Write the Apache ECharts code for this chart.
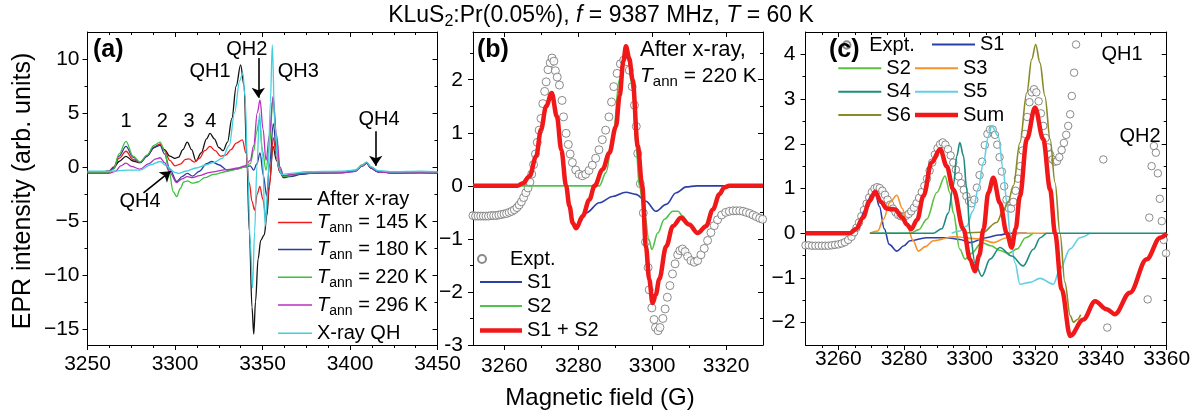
<!DOCTYPE html>
<html><head><meta charset="utf-8">
<script src="https://cdn.jsdelivr.net/npm/echarts@6/dist/echarts.min.js"></script>
<style>html,body{margin:0;padding:0;background:#fff}#c{width:1202px;height:420px}</style>
</head><body><div id="c"></div>
<script>
// ---------- Panel (a) data: [field G, EPR intensity] ----------
const aAfterXray = [[3250,-0.5],[3256,-0.5],[3262,-0.4],[3265,-0.1],[3268,0.5],[3272,0.98],[3276,0.55],[3280,0.4],[3284,1.0],[3288,1.8],[3291.5,2.1],[3294,1.6],[3297,1.0],[3300,0.8],[3302,0.9],[3304.5,1.6],[3307,2.3],[3309.5,1.6],[3312,0.55],[3315,1.3],[3318,2.6],[3320,3.1],[3322.5,2.6],[3325,1.8],[3327.5,1.5],[3330,2.3],[3332.5,4.5],[3335,7.5],[3337.5,9.45],[3339.5,7.5],[3341,1],[3342.5,-6],[3344,-13],[3345,-15.5],[3346,-12.5],[3347.5,-8.5],[3349,-6.8],[3351,-6.3],[3352.5,-4.5],[3354,-1.5],[3356,1.9],[3358,0.6],[3360,-0.5],[3362,-1.0],[3366,-0.85],[3372,-0.65],[3380,-0.55],[3395,-0.5],[3403,-0.35],[3407,0.1],[3409.5,0.35],[3412,-0.1],[3416,-0.45],[3425,-0.55],[3440,-0.5],[3450,-0.55]];
const aT145 = [[3250,-0.5],[3256,-0.5],[3262,-0.4],[3265,0],[3268,0.8],[3272,1.45],[3276,0.7],[3280,0.4],[3284,1.0],[3288,1.8],[3291.5,2.1],[3294,1.5],[3297,0.6],[3300,0.1],[3303,0.25],[3306,0.7],[3308,0.75],[3311,0.45],[3314,0.8],[3317,1.5],[3320,1.9],[3323,1.5],[3326,1.0],[3329,1.1],[3332,1.6],[3335,2.2],[3338.5,2.5],[3340.5,1.3],[3342.5,-1.5],[3344,-3.2],[3345.5,-4.0],[3347,-2.5],[3348.5,-1.8],[3350.2,-3.0],[3352,-4.7],[3353.8,-2.0],[3356.2,2.7],[3358,0.8],[3360,-0.5],[3362,-0.9],[3366,-0.75],[3372,-0.6],[3380,-0.55],[3395,-0.5],[3403,-0.35],[3407,0.1],[3409.5,0.35],[3412,-0.1],[3416,-0.45],[3425,-0.55],[3440,-0.5],[3450,-0.55]];
const aT180 = [[3250,-0.6],[3256,-0.6],[3262,-0.5],[3265,-0.1],[3268,1.0],[3272,1.9],[3276,0.9],[3280,0.4],[3284,1.0],[3288,1.8],[3291.5,2.0],[3294,1.2],[3297,-0.2],[3301,-1.35],[3304,-0.9],[3307,-0.6],[3310,-0.85],[3314,-0.4],[3318,0.3],[3321,0.5],[3325,0.2],[3330,-0.3],[3335,-0.2],[3340,0],[3343,0.1],[3345,-0.3],[3346.8,0.3],[3348.6,1.3],[3350.5,-0.8],[3352.4,-2.7],[3354,0.2],[3356.2,4.0],[3358,1.5],[3360,-0.3],[3362,-0.9],[3366,-0.9],[3372,-0.7],[3380,-0.55],[3395,-0.55],[3403,-0.4],[3407,0.1],[3409.5,0.35],[3412,-0.1],[3416,-0.45],[3425,-0.55],[3440,-0.55],[3450,-0.55]];
const aT220 = [[3250,-0.5],[3256,-0.5],[3262,-0.5],[3265,-0.2],[3268,1.2],[3272,2.37],[3276,1.0],[3280,0.45],[3284,1.1],[3288,2.0],[3291.5,2.3],[3294,1.5],[3296.5,-0.3],[3299,-2.3],[3301,-2.75],[3303,-2.0],[3305,-1.4],[3307,-1.3],[3310,-1.5],[3313,-1.4],[3317,-1.0],[3322,-0.7],[3330,-0.4],[3336,-0.2],[3340,0],[3343,0.3],[3345,1.5],[3346.6,3.2],[3348.2,4.4],[3350,1.5],[3352,-0.3],[3354,2.0],[3356,6.4],[3358,2.5],[3360,-0.2],[3362,-0.9],[3366,-0.8],[3372,-0.6],[3380,-0.5],[3395,-0.5],[3403,-0.3],[3407,0.2],[3409.5,0.45],[3412,0],[3416,-0.4],[3425,-0.5],[3440,-0.5],[3450,-0.5]];
const aT296 = [[3250,-0.6],[3256,-0.6],[3262,-0.6],[3266,-0.4],[3269,0.1],[3272,0.35],[3275,0.05],[3280,-0.2],[3285,0.3],[3289,0.75],[3291.5,0.85],[3294,0.4],[3297,-0.5],[3301,-1.45],[3304,-1.1],[3307,-0.9],[3310,-1.0],[3314,-0.8],[3320,-0.5],[3330,-0.25],[3336,-0.1],[3340,0.1],[3343,0.6],[3345,2.0],[3347,5.0],[3348.6,6.2],[3350.3,3.5],[3352,0.6],[3354,3.0],[3356,6.5],[3358,3.0],[3360,0],[3362,-0.8],[3366,-0.7],[3372,-0.6],[3380,-0.55],[3395,-0.55],[3403,-0.4],[3407,0.15],[3409.5,0.4],[3412,-0.05],[3416,-0.45],[3425,-0.55],[3440,-0.55],[3450,-0.55]];
const aXrayQH = [[3250,-0.4],[3265,-0.4],[3272,-0.3],[3280,-0.3],[3286,0.2],[3291.5,0.5],[3295,0.1],[3300,-0.5],[3302,-0.6],[3306,-0.4],[3312,-0.1],[3318,0.2],[3322,0.4],[3327,0.8],[3331,2.0],[3334,5.0],[3337,8.0],[3338.8,8.7],[3340,6.5],[3341.5,0],[3343,-7],[3344.3,-11.2],[3345.5,-6],[3346.8,0],[3348.3,5.0],[3350,1],[3351.5,-5.5],[3353,-2],[3354.5,6],[3355.6,11.3],[3357,4],[3359,0],[3361,-0.7],[3366,-0.6],[3375,-0.45],[3395,-0.4],[3403,-0.3],[3407,0.15],[3409.5,0.45],[3412,0],[3416,-0.35],[3425,-0.45],[3440,-0.4],[3450,-0.45]];
const aNotes = [['QH1',3320,8.85],['QH2',3341,10.86],['QH3',3370.5,8.85],['1',3272,4.22],['2',3292.7,4.22],['3',3308,4.22],['4',3320.4,4.22],['QH4',3416.6,4.38],['QH4',3280,-3.19]];
const aArrows = [[3347.6,10.1,3347.6,6.4],[3414.7,3.3,3414.7,0.1],[3282,-2.4,3297.5,-0.4]];
const aXMajor = [3250,3300,3350,3400,3450];
const aXMinor = [3262.5,3275,3287.5,3312.5,3325,3337.5,3362.5,3375,3387.5,3412.5,3425,3437.5];
const aYMajor = [-15,-10,-5,0,5,10];
const aYMinor = [-12.5,-7.5,-2.5,2.5,7.5];

// ---------- Panel (b) data ----------
const bExpt = [[3251.5,-0.56],[3252.2,-0.57],[3252.9,-0.57],[3253.6,-0.57],[3254.3,-0.57],[3255,-0.57],[3255.7,-0.57],[3256.4,-0.56],[3257.1,-0.56],[3257.8,-0.56],[3258.5,-0.55],[3259.2,-0.54],[3259.9,-0.53],[3260.6,-0.52],[3261.3,-0.5],[3262,-0.48],[3262.7,-0.45],[3263.4,-0.41],[3264,-0.36],[3264.6,-0.3],[3265.2,-0.22],[3265.8,-0.13],[3266.4,-0.04],[3266.9,0.07],[3267.4,0.22],[3267.9,0.4],[3268.4,0.6],[3268.9,0.82],[3269.4,1.05],[3269.9,1.27],[3270.4,1.55],[3270.9,1.78],[3271.3,1.96],[3271.8,2.19],[3272.4,2.32],[3272.9,2.41],[3273.4,2.35],[3273.8,2.17],[3274.3,2.05],[3274.9,1.9],[3275.6,1.61],[3276,1.3],[3276.7,0.99],[3277.3,0.78],[3277.8,0.6],[3278.4,0.44],[3279.3,0.3],[3280.2,0.22],[3281.1,0.19],[3282,0.22],[3282.9,0.29],[3283.8,0.39],[3284.7,0.52],[3285.6,0.68],[3286.5,0.87],[3287.4,1.05],[3288.3,1.3],[3289,1.58],[3289.6,1.87],[3290.5,2.12],[3291.4,2.3],[3292.3,2.37],[3293.2,2.34],[3293.8,2.18],[3294.6,1.87],[3295.2,1.52],[3295.7,1.12],[3296.1,0.61],[3296.8,0.04],[3297.6,-0.51],[3298.2,-1.06],[3298.9,-1.54],[3299.2,-1.96],[3299.9,-2.3],[3300.5,-2.52],[3300.9,-2.67],[3301.6,-2.73],[3302.1,-2.67],[3302.9,-2.5],[3303.5,-2.32],[3304.1,-2.1],[3304.8,-1.88],[3305.5,-1.66],[3306.2,-1.47],[3306.9,-1.3],[3307.5,-1.22],[3308.2,-1.19],[3308.9,-1.24],[3309.6,-1.33],[3310.5,-1.41],[3311.4,-1.44],[3312.3,-1.41],[3313.2,-1.3],[3314.1,-1.18],[3315,-1.03],[3315.9,-0.88],[3316.8,-0.75],[3317.7,-0.64],[3318.8,-0.55],[3319.9,-0.5],[3320.9,-0.48],[3321.9,-0.47],[3322.8,-0.47],[3323.7,-0.47],[3324.6,-0.48],[3325.5,-0.5],[3326.4,-0.52],[3327.3,-0.55],[3328.2,-0.58],[3329.1,-0.61],[3329.9,-0.63]];
const bS1 = [[3251.5,0],[3264,0],[3266.8,0.18],[3268.6,0.56],[3269.9,1.06],[3271.3,1.5],[3272.8,1.75],[3274.2,1.31],[3275.4,0.68],[3276.7,0],[3277.6,-0.38],[3278.5,-0.7],[3279.4,-0.8],[3280.5,-0.68],[3282.1,-0.51],[3285.7,-0.32],[3289.3,-0.2],[3292.9,-0.12],[3295.6,-0.16],[3298.3,-0.29],[3301,-0.48],[3303.8,-0.35],[3306.5,-0.13],[3309.2,-0.02],[3312,0],[3330,0]];
const bS2 = [[3251.5,0],[3285.7,0],[3287.5,0.25],[3289.5,1.0],[3291.1,2.0],[3292.5,2.53],[3293.6,2.35],[3294.7,1.8],[3295.7,0.7],[3296.5,0],[3297.9,-0.51],[3299.1,-1.01],[3299.9,-1.2],[3301.5,-0.89],[3303.3,-0.63],[3305.6,-0.48],[3307,-0.48],[3308.3,-0.57],[3310,-0.73],[3312.3,-0.89],[3314.6,-0.76],[3316.4,-0.45],[3318.2,-0.16],[3319.5,-0.03],[3320.9,0],[3330,0]];
const bSum = [[3251.5,0],[3263.5,0],[3265,0.05],[3266.8,0.18],[3268.6,0.56],[3269.9,1.06],[3271.3,1.5],[3272.8,1.75],[3274.2,1.31],[3275.4,0.68],[3276.7,0],[3277.6,-0.38],[3278.5,-0.7],[3279.4,-0.8],[3281.2,-0.57],[3283,-0.26],[3284.4,0],[3286.6,0.31],[3288.4,0.62],[3290.2,1.12],[3291.2,1.7],[3292.2,2.35],[3292.9,2.63],[3293.8,2.4],[3294.7,2.0],[3296.1,0.75],[3297.3,0],[3298.3,-1.14],[3299.2,-1.76],[3300.1,-2.21],[3301,-2.05],[3301.9,-1.76],[3303.8,-1.14],[3305.6,-0.76],[3307.8,-0.6],[3310,-0.73],[3312.3,-0.89],[3314.6,-0.76],[3316.4,-0.45],[3318.2,-0.16],[3319.5,-0.03],[3320.9,0],[3330,0]];
const bXMajor = [3260,3280,3300,3320];
const bXMinor = [3270,3290,3310];
const bYMajor = [-3,-2,-1,0,1,2];
const bYMinor = [-2.5,-1.5,-0.5,0.5,1.5,2.5];

// ---------- Panel (c) data ----------
const cExpt = [[3250,-0.27],[3251,-0.27],[3252,-0.28],[3253,-0.28],[3254,-0.28],[3255,-0.28],[3256,-0.28],[3257,-0.28],[3258,-0.27],[3259,-0.26],[3260,-0.25],[3261,-0.23],[3262,-0.2],[3263,-0.15],[3264,-0.08],[3264.8,0.02],[3265.5,0.12],[3266.3,0.24],[3267,0.38],[3267.8,0.52],[3268.6,0.66],[3269.4,0.8],[3270.2,0.92],[3271,1.0],[3271.8,1.03],[3272.6,1.01],[3273.4,0.95],[3274.2,0.86],[3275,0.75],[3275.8,0.64],[3276.6,0.55],[3277.4,0.47],[3278.2,0.41],[3279,0.38],[3279.8,0.37],[3280.6,0.39],[3281.4,0.43],[3282.2,0.49],[3283,0.57],[3283.8,0.67],[3284.6,0.79],[3285.4,0.92],[3286.2,1.06],[3287,1.22],[3287.8,1.4],[3288.6,1.58],[3289.4,1.76],[3290.2,1.9],[3291,1.99],[3291.8,2.03],[3292.6,1.98],[3293.4,1.88],[3294.2,1.74],[3295,1.58],[3295.8,1.42],[3296.6,1.27],[3297.4,1.12],[3298.2,0.97],[3299,0.83],[3299.8,0.72],[3300.6,0.67],[3301.4,0.75],[3302.2,1.02],[3303,1.3],[3303.8,1.6],[3304.6,1.97],[3305.4,2.22],[3306.2,2.32],[3307,2.32],[3307.7,2.2],[3308.4,1.98],[3309.1,1.7],[3309.8,1.38],[3310.5,1.05],[3311.2,0.75],[3311.9,0.56],[3312.6,0.55],[3313.3,0.7],[3314,0.95],[3314.7,1.22],[3315.4,1.5],[3316.1,1.85],[3316.8,2.22],[3317.5,2.6],[3318.2,2.93],[3318.9,3.15],[3319.6,3.22],[3320.3,3.15],[3321,2.95],[3321.7,2.68],[3322.4,2.4],[3323.1,2.13],[3323.8,1.92],[3324.5,1.76],[3325.2,1.65],[3325.9,1.6],[3326.6,1.61],[3327.3,1.7],[3328,1.86],[3328.7,2.02],[3329.4,2.2],[3330,2.4],[3330.6,2.66],[3331.1,3.07],[3331.8,3.59],[3332.4,4.22],[3340.7,1.65],[3341.9,-2.11],[3354.2,-1.48],[3354.7,0.35],[3355.4,1.5],[3356.1,1.95],[3356.7,1.8],[3357.3,1.34],[3357.9,0.77],[3358.5,0.27],[3359.1,-0.15],[3359.8,-0.45]];
const cS1 = [[3250,0],[3264,0],[3266,0.15],[3268,0.5],[3270,0.85],[3271.2,0.92],[3272.5,0.6],[3274,0.1],[3275.5,-0.25],[3277.8,-0.4],[3280,-0.28],[3281.8,-0.17],[3286.8,-0.1],[3293,-0.1],[3297,-0.14],[3300.1,-0.21],[3305,-0.1],[3309,-0.04],[3312,0],[3317.4,0]];
const cS2 = [[3270,0],[3282,0],[3284.5,0.08],[3286.9,0.31],[3290,0.91],[3292.5,1.28],[3294,0.9],[3295,0.46],[3297,-0.36],[3298.6,-0.58],[3300.5,-0.45],[3303.7,-0.21],[3306.5,-0.28],[3309,-0.38],[3311.8,-0.45],[3314.5,-0.35],[3317,-0.1],[3319.3,0]];
const cS3 = [[3269.6,0],[3272,0.05],[3273.7,0.31],[3275.8,0.7],[3277.8,0.85],[3279.5,0.55],[3280.8,0.2],[3282.8,-0.17],[3284.4,-0.4],[3286.5,-0.3],[3288.9,-0.17],[3295,-0.08],[3303.1,-0.13],[3307.2,-0.21],[3311.3,-0.1],[3315.3,0],[3323.5,0]];
const cS4 = [[3269.6,0],[3289,0],[3291.5,0.1],[3293.5,0.45],[3295,1.06],[3296.1,1.73],[3297,2.03],[3298.1,1.73],[3299.1,0.98],[3300.1,0],[3301.6,-0.66],[3303.7,-0.96],[3306.2,-0.58],[3309.2,-0.32],[3312.8,-0.51],[3316.3,-0.73],[3319.4,-0.36],[3321.5,-0.1],[3323.5,0],[3360,0]];
const cS5 = [[3294.5,0],[3297,0.05],[3299.1,0.16],[3301,0.5],[3302.6,1.0],[3304.2,1.58],[3305.7,2.17],[3306.7,2.4],[3308.7,2.17],[3310.2,1.43],[3311.3,0.68],[3312.3,0],[3313.8,-0.66],[3315.3,-1.14],[3318.4,-1.1],[3321.4,-1.01],[3325.5,-1.14],[3327.5,-0.8],[3330.6,-0.35],[3333.6,-0.1],[3336.6,0]];
const cS6 = [[3298,0],[3304,0.02],[3308.2,0.24],[3310.2,0.5],[3311.7,0.7],[3313.3,1.06],[3315.3,2.03],[3317.4,3.14],[3318.9,3.89],[3320.1,4.22],[3321.4,3.81],[3322.9,3.07],[3324.5,2.1],[3326,1.13],[3327.5,0],[3329,-1.1],[3330.6,-1.84],[3331.6,-1.99],[3332.8,-1.93],[3333.8,-1.82]];
const cSum = [[3250,0],[3263.5,0],[3265.5,0.1],[3267.5,0.35],[3269.5,0.72],[3271.2,0.93],[3273,0.7],[3274.7,0.55],[3277.3,0.53],[3279.5,0.35],[3280.8,0.2],[3282.2,0.09],[3284,0.3],[3285.9,0.83],[3288.4,1.58],[3291,1.88],[3293,1.5],[3295,0.98],[3298.1,0.09],[3300.1,-0.58],[3301.6,-0.85],[3302.9,-0.5],[3304.2,0.09],[3305.7,0.91],[3307.2,1.24],[3309.2,0.68],[3311.3,0],[3312.8,-0.32],[3314,0.1],[3315.3,0.83],[3317.4,2.1],[3319.9,2.81],[3322.4,2.1],[3324.5,0.98],[3326,0],[3328,-1.25],[3330.6,-2.3],[3334.6,-1.93],[3338.2,-1.52],[3341.7,-1.7],[3344.2,-1.81],[3348.8,-1.33],[3353.9,-0.58],[3358,-0.1],[3360,0]];
const cNotes = [['QH1',3346.4,4.0],['QH2',3351.9,2.17]];
const cXMajor = [3260,3280,3300,3320,3340,3360];
const cXMinor = [3255,3265,3270,3275,3285,3290,3295,3305,3310,3315,3325,3330,3335,3345,3350,3355];
const cYMajor = [-2,-1,0,1,2,3,4];
const cYMinor = [-1.5,-0.5,0.5,1.5,2.5,3.5];

// ---------- build ----------
const FF = "'Liberation Sans', Arial, sans-serif";
const FFN = "'Liberation Sans Narrow', 'Arial Narrow', 'Liberation Sans', sans-serif";
const minus = v => String(v).replace('-', '\u2212');
const xAxes = [], yAxes = [];
function addPanel(gi, c) {
  const xi = xAxes.length, yi = yAxes.length;
  const lbl = (vals, margin, fmt) => ({show:true, customValues:vals.slice(), margin, color:'#000', fontFamily:c.font, fontSize:c.fs, formatter:fmt});
  const ax = (pos, inside, len, vals, label, line) => ({
    type:'value', gridIndex:gi, position:pos,
    axisLine:{show:line, onZero:false, lineStyle:{color:'#000', width:1}},
    axisTick:{show:true, inside:inside, length:len, customValues:vals.slice(), lineStyle:{color:'#000', width:1}},
    axisLabel: label || {show:false}, splitLine:{show:false}
  });
  const X = o => Object.assign(o, {min:c.xmin, max:c.xmax});
  const Y = o => Object.assign(o, {min:c.ymin, max:c.ymax});
  xAxes.push(X(ax('bottom', false, 5, c.xMaj, lbl(c.xMaj, c.xMargin, v => String(v)), true)));
  xAxes.push(X(ax('bottom', false, 3, c.xMin, null, false)));
  xAxes.push(X(ax('top', true, 5, c.xMaj, null, true)));
  xAxes.push(X(ax('top', true, 3, c.xMin, null, false)));
  yAxes.push(Y(ax('left', false, 5, c.yMaj, lbl(c.yMaj, c.yMargin, c.yFmt || minus), true)));
  yAxes.push(Y(ax('left', false, 3, c.yMin, null, false)));
  yAxes.push(Y(ax('right', true, 5, c.yMaj, null, true)));
  yAxes.push(Y(ax('right', true, 3, c.yMin, null, false)));
  return {x:xi, y:yi};
}
const PA = addPanel(0, {xmin:3250, xmax:3450, ymin:-16.5, ymax:12.5, xMaj:aXMajor, xMin:aXMinor, yMaj:aYMajor, yMin:aYMinor, font:FF, fs:21, xMargin:9, yMargin:8});
const PB = addPanel(1, {xmin:3251.5, xmax:3330, ymin:-3, ymax:2.9, xMaj:bXMajor, xMin:bXMinor, yMaj:bYMajor, yMin:bYMinor, font:FFN, fs:21, xMargin:11, yMargin:10, yFmt: v => v === -3 ? '-3' : minus(v)});
const PC = addPanel(2, {xmin:3250, xmax:3360, ymin:-2.5, ymax:4.5, xMaj:cXMajor, xMin:cXMinor, yMaj:cYMajor, yMin:cYMinor, font:FF, fs:21, xMargin:4, yMargin:10});

const series = [];
function line(P, name, data, color, width, z, extra) {
  series.push(Object.assign({name, type:'line', xAxisIndex:P.x, yAxisIndex:P.y, data, symbol:'none', smooth:0.35, smoothMonotone:'x',
    lineStyle:{color, width}, itemStyle:{color}, z: z || 2, silent:true, animation:false}, extra || {}));
}
function dots(P, name, data, size) {
  series.push({name, type:'scatter', xAxisIndex:P.x, yAxisIndex:P.y, data, symbol:'circle', symbolSize:size,
    itemStyle:{color:'#ffffff', borderColor:'#6e6e6e', borderWidth:1}, z:2, silent:true, animation:false});
}
const noteMP = (notes) => ({symbol:'rect', symbolSize:1, silent:true, itemStyle:{color:'rgba(0,0,0,0)'},
  label:{show:true, position:'inside', color:'#000', fontSize:20, fontFamily:FF, formatter:p => p.name},
  data: notes.map(n => ({name:n[0], coord:[n[1], n[2]]}))});

line(PA, 'a|After x-ray', aAfterXray, '#111111', 1.3, 3, {
  markPoint: noteMP(aNotes),
  markLine: {silent:true, symbol:['none','arrow'], symbolSize:10, animation:false,
    lineStyle:{color:'#000', width:1.6, type:'solid'}, label:{show:false},
    data: aArrows.map(a => [{coord:[a[0],a[1]]},{coord:[a[2],a[3]]}])}
});
line(PA, 'a|T145', aT145, '#f01c1c', 1.3, 3);
line(PA, 'a|T180', aT180, '#2f3b9c', 1.3, 3);
line(PA, 'a|T220', aT220, '#3dbf3d', 1.3, 3);
line(PA, 'a|T296', aT296, '#b62fc0', 1.3, 3);
line(PA, 'a|XQH', aXrayQH, '#3fd0e0', 1.3, 3);

dots(PB, 'b|Expt.', bExpt, 8);
line(PB, 'b|S1', bS1, '#2c3ea8', 1.6, 3);
line(PB, 'b|S2', bS2, '#4ec44e', 1.6, 3);
line(PB, 'b|S1 + S2', bSum, '#f01818', 4.5, 4);

dots(PC, 'c|Expt.', cExpt, 7.5);
line(PC, 'c|S1', cS1, '#2c3ea8', 1.6, 3, {markPoint: noteMP(cNotes)});
line(PC, 'c|S2', cS2, '#5cc040', 1.6, 3);
line(PC, 'c|S3', cS3, '#f5922a', 1.6, 3);
line(PC, 'c|S5', cS5, '#62d0e2', 1.6, 3);
line(PC, 'c|S6', cS6, '#8a8a28', 1.6, 3);
line(PC, 'c|S4', cS4, '#1e8c80', 1.6, 3);
line(PC, 'c|Sum', cSum, '#f01818', 4.5, 4);

const rich = {
  n:{fontSize:20, lineHeight:26, fontFamily:FF, color:'#000', fontWeight:'normal'},
  i:{fontSize:20, lineHeight:26, fontFamily:FF, color:'#000', fontStyle:'italic', fontWeight:'normal'},
  s:{fontSize:14, lineHeight:14, fontFamily:FF, color:'#000', verticalAlign:'bottom', fontWeight:'normal'}
};
function leg(name, text, left, cy, w, ih, icon) {
  return {data:[name], left, top: cy - 13, itemWidth:w, itemHeight: ih, icon: icon || 'rect', padding:0, itemGap:0,
    selectedMode:false, formatter:text, textStyle:{color:'#000', fontFamily:FF, fontSize:20, lineHeight:26, rich}};
}
const tann = t => '{i|T}{s|ann}{n| = ' + t + ' K}';
const legends = [
  leg('a|After x-ray', 'After x-ray', 278, 199.3, 34, 1.5),
  leg('a|T145', tann(145), 278, 222.5, 34, 1.5),
  leg('a|T180', tann(180), 278, 249.5, 34, 1.5),
  leg('a|T220', tann(220), 278, 277.3, 34, 1.5),
  leg('a|T296', tann(296), 278, 305, 34, 1.5),
  leg('a|XQH', 'X-ray QH', 278, 333.3, 34, 1.5),
  leg('b|Expt.', 'Expt.', 477, 259, 46, 8, 'circle'),
  leg('b|S1', 'S1', 480, 282, 42, 2),
  leg('b|S2', 'S2', 480, 306, 42, 2),
  leg('b|S1 + S2', 'S1 + S2', 480, 330.5, 42, 4.5),
  leg('c|Expt.', 'Expt.', 842, 45, 35, 7.5, 'circle'),
  leg('c|S1', 'S1', 932, 44.5, 43, 2),
  leg('c|S2', 'S2', 838.3, 68.3, 43, 2),
  leg('c|S3', 'S3', 915, 68.3, 43, 2),
  leg('c|S4', 'S4', 838.3, 91.7, 43, 2),
  leg('c|S5', 'S5', 915, 91.7, 43, 2),
  leg('c|S6', 'S6', 838.3, 115, 43, 2),
  leg('c|Sum', 'Sum', 915, 115, 43, 4.5)
];

const titleRich = {
  n:{fontSize:23, lineHeight:28, fontFamily:FF, color:'#000', fontWeight:'normal'},
  i:{fontSize:23, lineHeight:28, fontFamily:FF, color:'#000', fontStyle:'italic', fontWeight:'normal'},
  s:{fontSize:16, lineHeight:16, fontFamily:FF, color:'#000', verticalAlign:'bottom', fontWeight:'normal'}
};
const boldLbl = {fontSize:25, fontWeight:'bold', fontFamily:FF, color:'#000'};
const titles = [
  {text:'{n|KLuS}{s|2}{n|:Pr(0.05%), }{i|f}{n| = 9387 MHz, }{i|T}{n| = 60 K}', left:'center', top:2, padding:0, textStyle:{fontWeight:'normal', rich:titleRich}},
  {text:'(a)', left:93, top:38, padding:0, textStyle:boldLbl},
  {text:'(b)', left:477, top:38, padding:0, textStyle:boldLbl},
  {text:'(c)', left:829, top:38, padding:0, textStyle:boldLbl},
  {text:'After x-ray,', left:640, top:39, padding:0, textStyle:{fontSize:22, fontFamily:FF, color:'#000', fontWeight:'normal'}},
  {text:'{i|T}{s|ann}{n| = 220 K}', left:640, top:63, padding:0, textStyle:{fontWeight:'normal', rich:{
    n:{fontSize:21, lineHeight:26, fontFamily:FF, color:'#000', fontWeight:'normal'},
    i:{fontSize:21, lineHeight:26, fontFamily:FF, color:'#000', fontStyle:'italic', fontWeight:'normal'},
    s:{fontSize:15, lineHeight:15, fontFamily:FF, color:'#000', verticalAlign:'bottom', fontWeight:'normal'}}}}
];

const grids = [
  {left:87.5, top:32, width:350, height:313},
  {left:473, top:32, width:290, height:313},
  {left:805.5, top:32, width:361.2, height:313}
];

const chart = echarts.init(document.getElementById('c'), null, {renderer:'canvas'});
chart.setOption({
  animation:false,
  title: titles,
  grid: grids,
  xAxis: xAxes,
  yAxis: yAxes,
  legend: legends,
  series,
  graphic: [
    {type:'text', x:23, y:191, rotation:Math.PI/2, style:{text:'EPR intensity (arb. units)', fontSize:25, fontFamily:FF, fill:'#000', align:'center', verticalAlign:'middle'}},
    {type:'text', x:600, y:398, style:{text:'Magnetic field (G)', fontSize:24, fontFamily:FF, fill:'#000', align:'center', verticalAlign:'middle'}}
  ]
});
</script></body></html>
